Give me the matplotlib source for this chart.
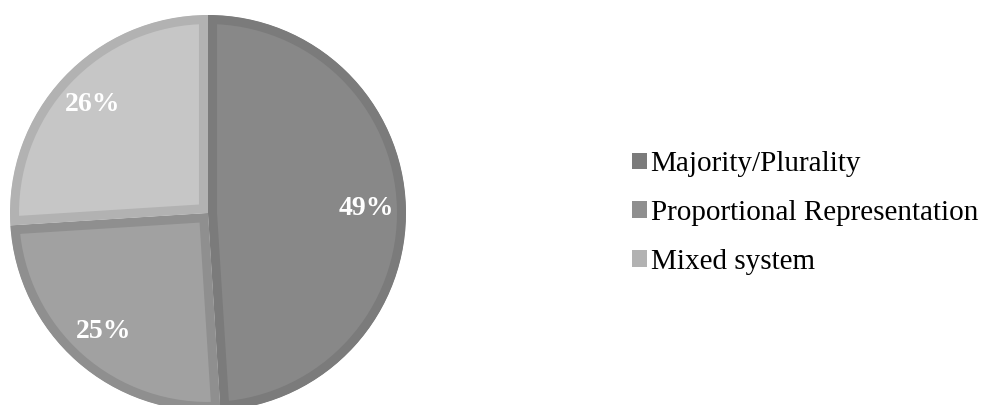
import matplotlib.pyplot as plt
from matplotlib.patches import Patch

# data
labels = ['Majority/Plurality', 'Proportional Representation', 'Mixed system']
shares = [49, 25, 26]
fills = ['#888888', '#a1a1a1', '#c6c6c6']
edges = ['#7b7b7b', '#8f8f8f', '#b2b2b2']

plt.rcParams['font.family'] = ['Liberation Serif', 'DejaVu Serif']

fig = plt.figure(figsize=(9.91, 4.05), dpi=100)
W, H = 991, 405
cx, cy, r = 208, 213, 198
ax = fig.add_axes([(cx - r) / W, (H - cy - r) / H, 2 * r / W, 2 * r / H])

wedges, texts, autotexts = ax.pie(
    shares, colors=fills, startangle=90, counterclock=False, radius=1,
    autopct='%1.0f%%', pctdistance=0.8,
    wedgeprops=dict(linewidth=13, joinstyle='miter'),
    textprops=dict(color='white', fontsize=20, fontweight='bold'))

# border drawn only inside each wedge
for w, ec in zip(wedges, edges):
    w.set_edgecolor(ec)
    w.set_clip_on(True)
    w.set_clip_path(w)

ax.set_xlim(-1, 1)
ax.set_ylim(-1, 1)
ax.set_aspect('equal')
ax.axis('off')

handles = [Patch(facecolor=e, edgecolor='none') for e in edges]
fig.legend(handles, labels, loc='center left', bbox_to_anchor=(632 / W, 1 - 213 / H),
           frameon=False, fontsize=21, handlelength=0.5, handleheight=0.5,
           handletextpad=0.14, labelspacing=0.78, borderpad=0, borderaxespad=0)

fig.savefig('out.png', dpi=100)
